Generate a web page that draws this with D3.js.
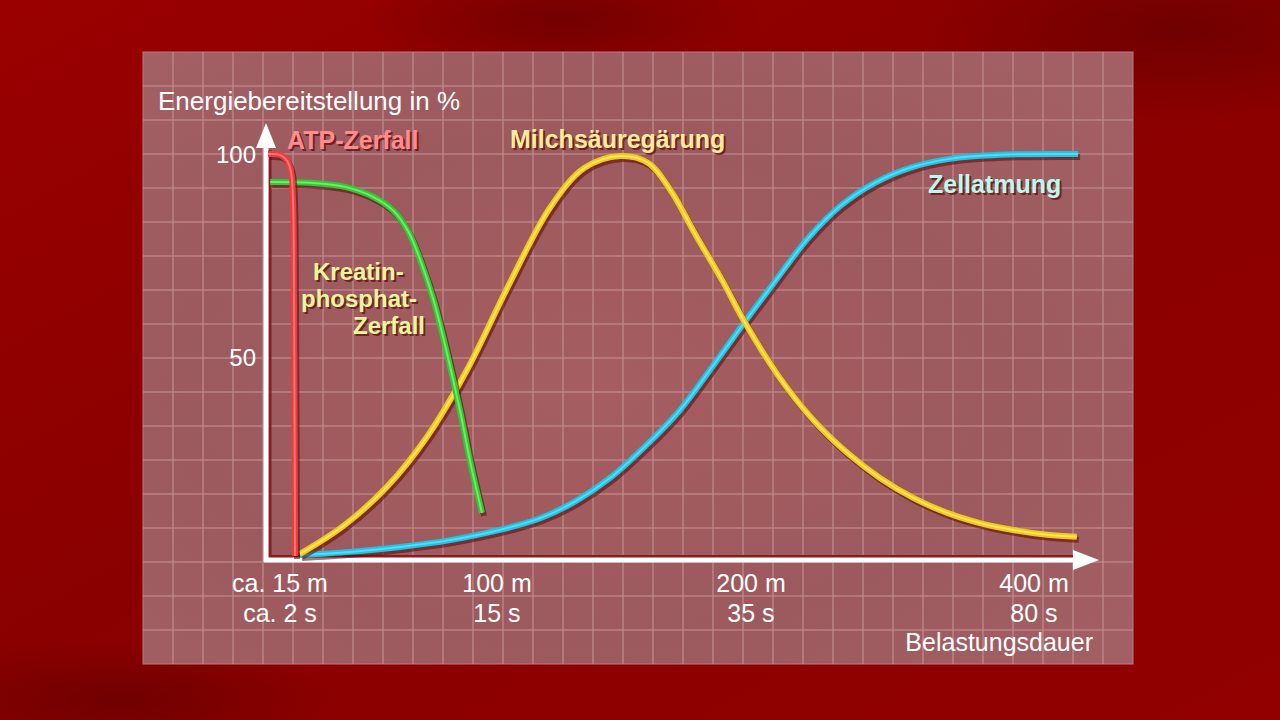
<!DOCTYPE html>
<html>
<head>
<meta charset="utf-8">
<script src="https://cdn.jsdelivr.net/npm/d3@7"></script>
<style>
  html, body { margin: 0; padding: 0; background: #8a0000; }
  svg { display: block; font-family: "Liberation Sans", Arial, sans-serif; }
</style>
</head>
<body>
<script>
// Energiebereitstellung curves, x = Belastungsdauer in seconds, y = percent
var atpT = [0.3, 2.0, 2.4, 2.66, 2.78, 2.84, 2.9];
var atpV = [100, 99.8, 98.5, 95.6, 88.7, 64, 1];

var kpT = [0.6, 3.8, 5.9, 7.6, 8.8, 9.7, 10.4, 11.2, 12.0, 12.8, 13.4, 14.1];
var kpV = [93.1, 92.9, 91.9, 89.4, 86.0, 80.8, 73.9, 64.0, 51.0, 36.5, 24.1, 11.6];

var milchT = [3.2, 5.8, 8.4, 10.8, 13.2, 16.0, 19.2, 21.9, 24.7, 26.9, 28.8, 30.6, 32.8, 34.5, 39.6, 44.9, 50.3, 55.5, 60.8, 66.2, 71.4, 76.7, 82.1, 86.8];
var milchV = [1.5, 8.4, 18.0, 30.3, 46.8, 68.2, 86.9, 96.6, 99.5, 97.8, 90.4, 80.3, 68.5, 58.6, 44.8, 34.5, 26.4, 20.2, 15.3, 11.6, 9.1, 7.4, 6.2, 5.7];

var zellT = [3.2, 6.2, 9.2, 12.2, 15.2, 18.4, 21.1, 23.9, 26.7, 29.4, 32.0, 34.5, 39.1, 44.1, 49.2, 54.7, 60.3, 66.6, 74.6, 87.0];
var zellV = [1.2, 2.0, 3.2, 4.9, 7.4, 10.3, 14.3, 20.2, 28.1, 36.9, 47.8, 58.6, 69.2, 79.3, 87.2, 92.9, 96.6, 98.8, 99.8, 100];

var xTickSec = [2, 15, 35, 80];
var xTickDist = ["ca. 15 m", "100 m", "200 m", "400 m"];
var xTickTime = ["ca. 2 s", "15 s", "35 s", "80 s"];
var yTicks = [50, 100];

var W = 1280, H = 720;
var svg = d3.select("body").append("svg").attr("width", W).attr("height", H);
var defs = svg.append("defs");

// background
var bg = defs.append("linearGradient").attr("id", "bg").attr("x1", 0).attr("y1", 0).attr("x2", 1).attr("y2", 1);
bg.append("stop").attr("offset", "0%").attr("stop-color", "#9a0000");
bg.append("stop").attr("offset", "45%").attr("stop-color", "#8a0000");
bg.append("stop").attr("offset", "100%").attr("stop-color", "#920000");
svg.append("rect").attr("width", W).attr("height", H).attr("fill", "url(#bg)");
var dark = defs.append("radialGradient").attr("id", "dark");
dark.append("stop").attr("offset", "0%").attr("stop-color", "#5e0000").attr("stop-opacity", 0.6);
dark.append("stop").attr("offset", "100%").attr("stop-color", "#5e0000").attr("stop-opacity", 0);
svg.append("ellipse").attr("cx", 1180).attr("cy", 30).attr("rx", 260).attr("ry", 90).attr("fill", "url(#dark)");
svg.append("ellipse").attr("cx", 560).attr("cy", 20).attr("rx", 200).attr("ry", 60).attr("fill", "url(#dark)");
svg.append("ellipse").attr("cx", 120).attr("cy", 700).attr("rx", 220).attr("ry", 60).attr("fill", "url(#dark)");

// panel
var px0 = 143, py0 = 52, pw = 990, ph = 612;
var pg = defs.append("radialGradient").attr("id", "panel").attr("cx", "45%").attr("cy", "55%").attr("r", "70%");
pg.append("stop").attr("offset", "0%").attr("stop-color", "#a55d60");
pg.append("stop").attr("offset", "60%").attr("stop-color", "#9c5a5e");
pg.append("stop").attr("offset", "100%").attr("stop-color", "#a36064");
svg.append("rect").attr("x", px0).attr("y", py0).attr("width", pw).attr("height", ph)
  .attr("fill", "url(#panel)").attr("stroke", "#b87a7e").attr("stroke-width", 1);

// grid
var grid = svg.append("g").attr("stroke", "#c48f93").attr("stroke-opacity", 0.75).attr("stroke-width", 1.5);
grid.selectAll("line.v").data(d3.range(1, 33)).join("line")
  .attr("x1", d => px0 + d * 30).attr("x2", d => px0 + d * 30)
  .attr("y1", py0).attr("y2", py0 + ph);
grid.selectAll("line.h").data(d3.range(1, 18)).join("line")
  .attr("y1", d => py0 + d * 34).attr("y2", d => py0 + d * 34)
  .attr("x1", px0).attr("x2", px0 + pw);

// scales (piecewise linear time axis)
var x = d3.scaleLinear().domain([0, 2, 15, 35, 80, 90]).range([266, 280, 497, 751, 1034, 1097]);
var y = d3.scaleLinear().domain([0, 100]).range([560, 154]);

// axes
var ax = svg.append("g");
var x0 = x(0), y0 = y(0);
ax.append("line").attr("x1", x0 + 4).attr("x2", x0 + 4).attr("y1", 150).attr("y2", y0 - 2)
  .attr("stroke", "#8c1c1c").attr("stroke-width", 3);
ax.append("line").attr("x1", x0 + 3).attr("x2", 1075).attr("y1", y0 - 3.5).attr("y2", y0 - 3.5)
  .attr("stroke", "#8c1c1c").attr("stroke-width", 3);
ax.append("line").attr("x1", x0).attr("x2", x0).attr("y1", 140).attr("y2", y0 + 2)
  .attr("stroke", "#fff").attr("stroke-width", 5);
ax.append("line").attr("x1", x0 - 2).attr("x2", 1080).attr("y1", y0).attr("y2", y0)
  .attr("stroke", "#fff").attr("stroke-width", 5);
ax.append("path").attr("d", `M${x0},123 L${x0 + 10},148 L${x0 - 10},148 Z`).attr("fill", "#fff");
ax.append("path").attr("d", `M1099,${y0} L1073,${y0 - 10} L1073,${y0 + 10} Z`).attr("fill", "#fff");

// y tick labels
svg.append("g").selectAll("text").data(yTicks).join("text")
  .attr("x", 256).attr("y", d => y(d) + 9)
  .attr("text-anchor", "end").attr("font-size", 24).attr("fill", "#fff")
  .text(d => d);

// x tick labels
var xl = svg.append("g").attr("font-size", 25).attr("fill", "#fff").attr("text-anchor", "middle");
xl.selectAll("text.d").data(xTickSec).join("text")
  .attr("x", d => x(d)).attr("y", 592).text((d, i) => xTickDist[i]);
xl.selectAll("text.t").data(xTickSec).join("text")
  .attr("x", d => x(d)).attr("y", 622).text((d, i) => xTickTime[i]);

svg.append("text").attr("x", 158).attr("y", 110).attr("font-size", 26).attr("fill", "#fff")
  .text("Energiebereitstellung in %");
svg.append("text").attr("x", 1093).attr("y", 651).attr("font-size", 25).attr("fill", "#fff")
  .attr("text-anchor", "end").text("Belastungsdauer");

// curves
var line = d3.line().x(d => x(d[0])).y(d => y(d[1])).curve(d3.curveCatmullRom.alpha(0.5));
var series = [
  { t: zellT, v: zellV, c: "#1ec3e6", h: "#6fe4f7" },
  { t: milchT, v: milchV, c: "#f2c81a", h: "#fff27a" },
  { t: kpT, v: kpV, c: "#2ecc2e", h: "#8cf58c" },
  { t: atpT, v: atpV, c: "#f23a3a", h: "#ff8f8f" }
];
var cg = svg.append("g").attr("fill", "none").attr("stroke-linecap", "butt");
series.forEach(function (s) {
  var pts = s.t.map((t, i) => [t, s.v[i]]);
  cg.append("path").attr("d", line(pts)).attr("transform", "translate(2,3)")
    .attr("stroke", "#5a0808").attr("stroke-opacity", 0.55).attr("stroke-width", 6);
  cg.append("path").attr("d", line(pts)).attr("stroke", s.c).attr("stroke-width", 6);
  cg.append("path").attr("d", line(pts)).attr("stroke", s.h).attr("stroke-width", 2).attr("stroke-opacity", 0.7);
});

// series labels
var labels = [
  { text: "ATP-Zerfall", x: 287, y: 149, c: "#ff8c8c", s: 25 },
  { text: "Milchsäuregärung", x: 510, y: 148, c: "#ffeb9a", s: 25 },
  { text: "Kreatin-", x: 313, y: 280, c: "#eaf59c", s: 24 },
  { text: "phosphat-", x: 301, y: 307, c: "#eaf59c", s: 24 },
  { text: "Zerfall", x: 353, y: 334, c: "#eaf59c", s: 24 },
  { text: "Zellatmung", x: 928, y: 193, c: "#b6fbef", s: 25 }
];
var lg = svg.append("g").attr("font-weight", "bold");
lg.selectAll("text.s").data(labels).join("text")
  .attr("x", d => d.x + 2).attr("y", d => d.y + 2).attr("font-size", d => d.s)
  .attr("fill", "#5a0808").attr("fill-opacity", 0.7)
  .text(d => d.text);
lg.selectAll("text.m").data(labels).join("text")
  .attr("x", d => d.x).attr("y", d => d.y).attr("font-size", d => d.s).attr("fill", d => d.c)
  .text(d => d.text);
</script>
</body>
</html>
